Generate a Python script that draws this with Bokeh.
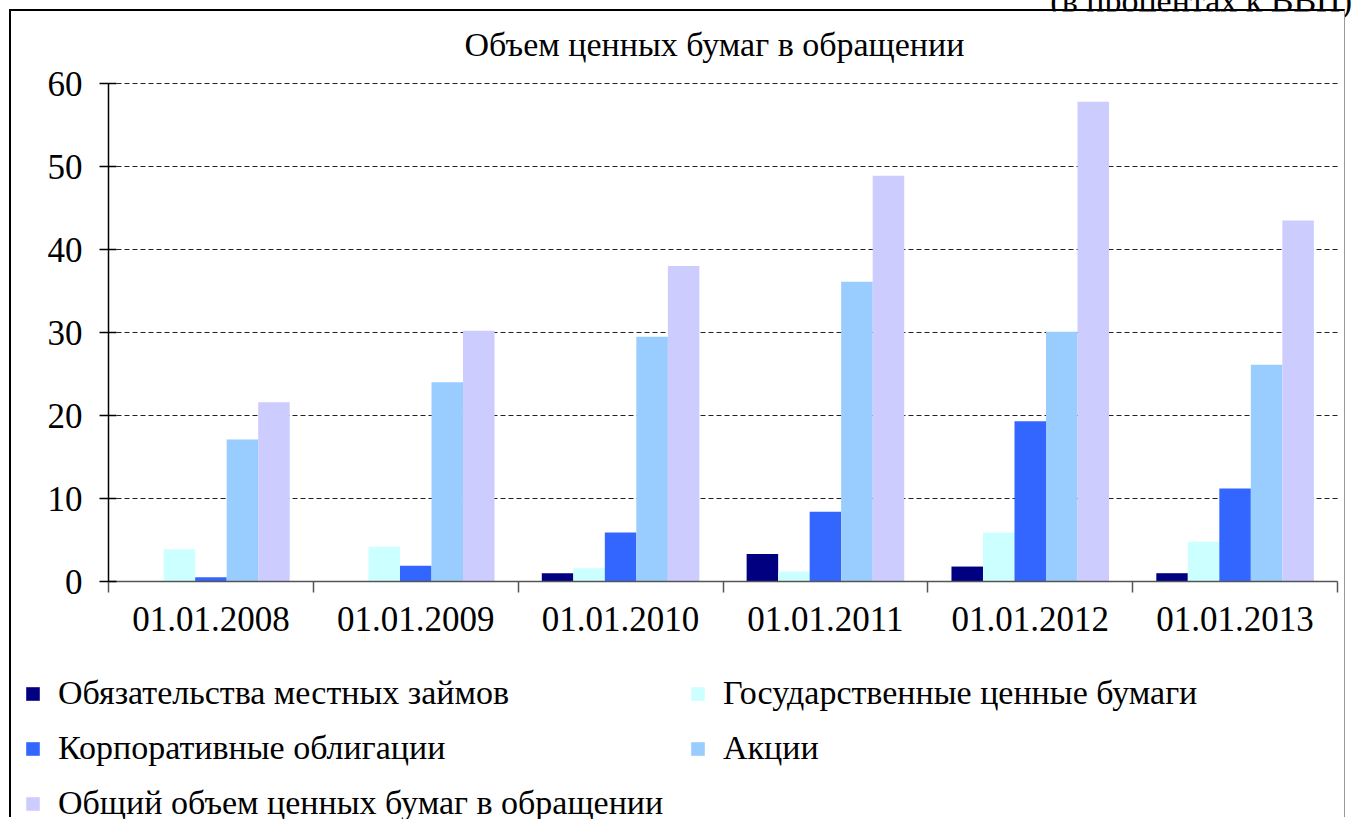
from bokeh.plotting import figure
from bokeh.models import ColumnDataSource, FixedTicker, Legend, LegendItem, Div, Label
from bokeh.layouts import column
from bokeh.embed import file_html
from bokeh.resources import INLINE

dates = ["01.01.2008", "01.01.2009", "01.01.2010", "01.01.2011", "01.01.2012", "01.01.2013"]
series_names = ["Обязательства местных займов", "Государственные ценные бумаги",
                "Корпоративные облигации", "Акции",
                "Общий объем ценных бумаг в обращении"]
local_loans = [0.0, 0.0, 1.0, 3.3, 1.8, 1.0]
gov_securities = [3.9, 4.2, 1.6, 1.2, 5.9, 4.8]
corp_bonds = [0.5, 1.9, 5.9, 8.4, 19.3, 11.2]
stocks = [17.1, 24.0, 29.5, 36.1, 30.1, 26.1]
total_volume = [21.6, 30.2, 38.0, 48.9, 57.8, 43.5]
colors = ["#000080", "#CCFFFF", "#3366FF", "#99CCFF", "#CCCCFF"]
y_ticks = [0, 10, 20, 30, 40, 50, 60]
title_text = "Объем ценных бумаг в обращении"
unit_text = "(в процентах к ВВП)"

FONT = "Liberation Serif"
n = len(dates)
series = [local_loans, gov_securities, corp_bonds, stocks, total_volume]
nser = len(series)
gap = 0.75
bw = 1.0 / (nser + 2 * gap)

# pixel layout of the canvas (canvas 1336 x 808; plot area 1229 x 498)
W, H = 1336, 808
PL, PR, PT, PB = 97, 10, 72, 238
TITLE_CX, TITLE_BASE = 703, 33            # title centre / baseline, canvas px
ymax = y_ticks[-1]
xu = (W - PL - PR) / n
yu = (H - PT - PB) / ymax
x_lo, x_hi = -PL / xu, n + PR / xu
y_lo, y_hi = -PB / yu, ymax + PT / yu

p = figure(width=W, height=H, x_range=(x_lo, x_hi), y_range=(y_lo, y_hi),
           output_backend="svg", toolbar_location=None,
           min_border_left=0, min_border_right=0, min_border_top=0,
           min_border_bottom=0)
p.margin = (0, 0, 0, 9)
p.styles = {"border-left": "2px solid black", "border-top": "2px solid black",
            "border-right": "1px solid #999999"}
p.outline_line_color = None
p.background_fill_color = "white"
p.border_fill_color = "white"
p.grid.grid_line_color = None

# dashed horizontal gridlines limited to the plot area
grid_y = y_ticks[1:]
p.segment(x0=[0] * len(grid_y), x1=[n] * len(grid_y), y0=grid_y, y1=grid_y,
          line_color="#222222", line_width=1, line_dash="5 3")

renderers = []
for k, vals in enumerate(series):
    xs = [i + (gap + 0.5 + k) * bw for i in range(n)]
    src = ColumnDataSource(dict(x=xs, top=vals))
    renderers.append(p.vbar(x="x", top="top", width=bw, bottom=0, source=src,
                            fill_color=colors[k], line_color=None))

xa = p.xaxis[0]
xa.fixed_location = 0
xa.bounds = (0, n)
xa.ticker = FixedTicker(ticks=[i + 0.5 for i in range(n)], minor_ticks=list(range(n + 1)))
xa.major_label_overrides = {i + 0.5: d for i, d in enumerate(dates)}
xa.major_tick_line_color = None
xa.minor_tick_line_color = "#555555"
xa.minor_tick_line_width = 1.5
xa.minor_tick_in = 0
xa.minor_tick_out = 11
xa.axis_line_color = "#555555"
xa.axis_line_width = 1.5
xa.major_label_text_font = FONT
xa.major_label_text_font_size = "35px"
xa.major_label_text_color = "black"
xa.major_label_standoff = 14

ya = p.yaxis[0]
ya.fixed_location = 0
ya.bounds = (0, ymax)
ya.ticker = FixedTicker(ticks=y_ticks)
ya.axis_line_color = "black"
ya.axis_line_width = 1.5
ya.major_tick_line_color = "black"
ya.major_tick_line_width = 1.5
ya.major_tick_in = 8
ya.major_tick_out = 9
ya.minor_tick_line_color = None
ya.major_label_text_font = FONT
ya.major_label_text_font_size = "35px"
ya.major_label_text_color = "black"
ya.major_label_standoff = 17

title = Label(x=(TITLE_CX - PL) / xu, y=ymax + (PT - TITLE_BASE) / yu,
              text=title_text, text_font=FONT, text_font_size="34px",
              text_color="black", text_align="center", text_baseline="alphabetic")
p.add_layout(title)

order = [0, 2, 4, 1, 3]   # column-major fill -> row-major look
items = [LegendItem(label=series_names[k], renderers=[renderers[k]]) for k in order]
legend = Legend(items=items, ncols=2, location=(13, -4),
                glyph_width=17, glyph_height=17, label_standoff=17,
                label_text_font=FONT, label_text_font_size="34px",
                label_text_color="black", label_width=616,
                label_height=40, spacing=15, padding=0, margin=0,
                border_line_color=None, background_fill_alpha=0)
p.add_layout(legend, "center")

header = Div(text=('<div style="margin-top:-61px;text-align:right;white-space:nowrap;'
                   'font-family:\'Liberation Serif\';font-size:34px;line-height:34px;'
                   'color:black;width:1352px;">' + unit_text + '</div>'),
             width=1357, height=9, styles={"overflow": "visible"})
header.margin = (0, 0, 0, 0)

layout = column(header, p, spacing=0)
open("out.html", "w").write(file_html(layout, INLINE))
